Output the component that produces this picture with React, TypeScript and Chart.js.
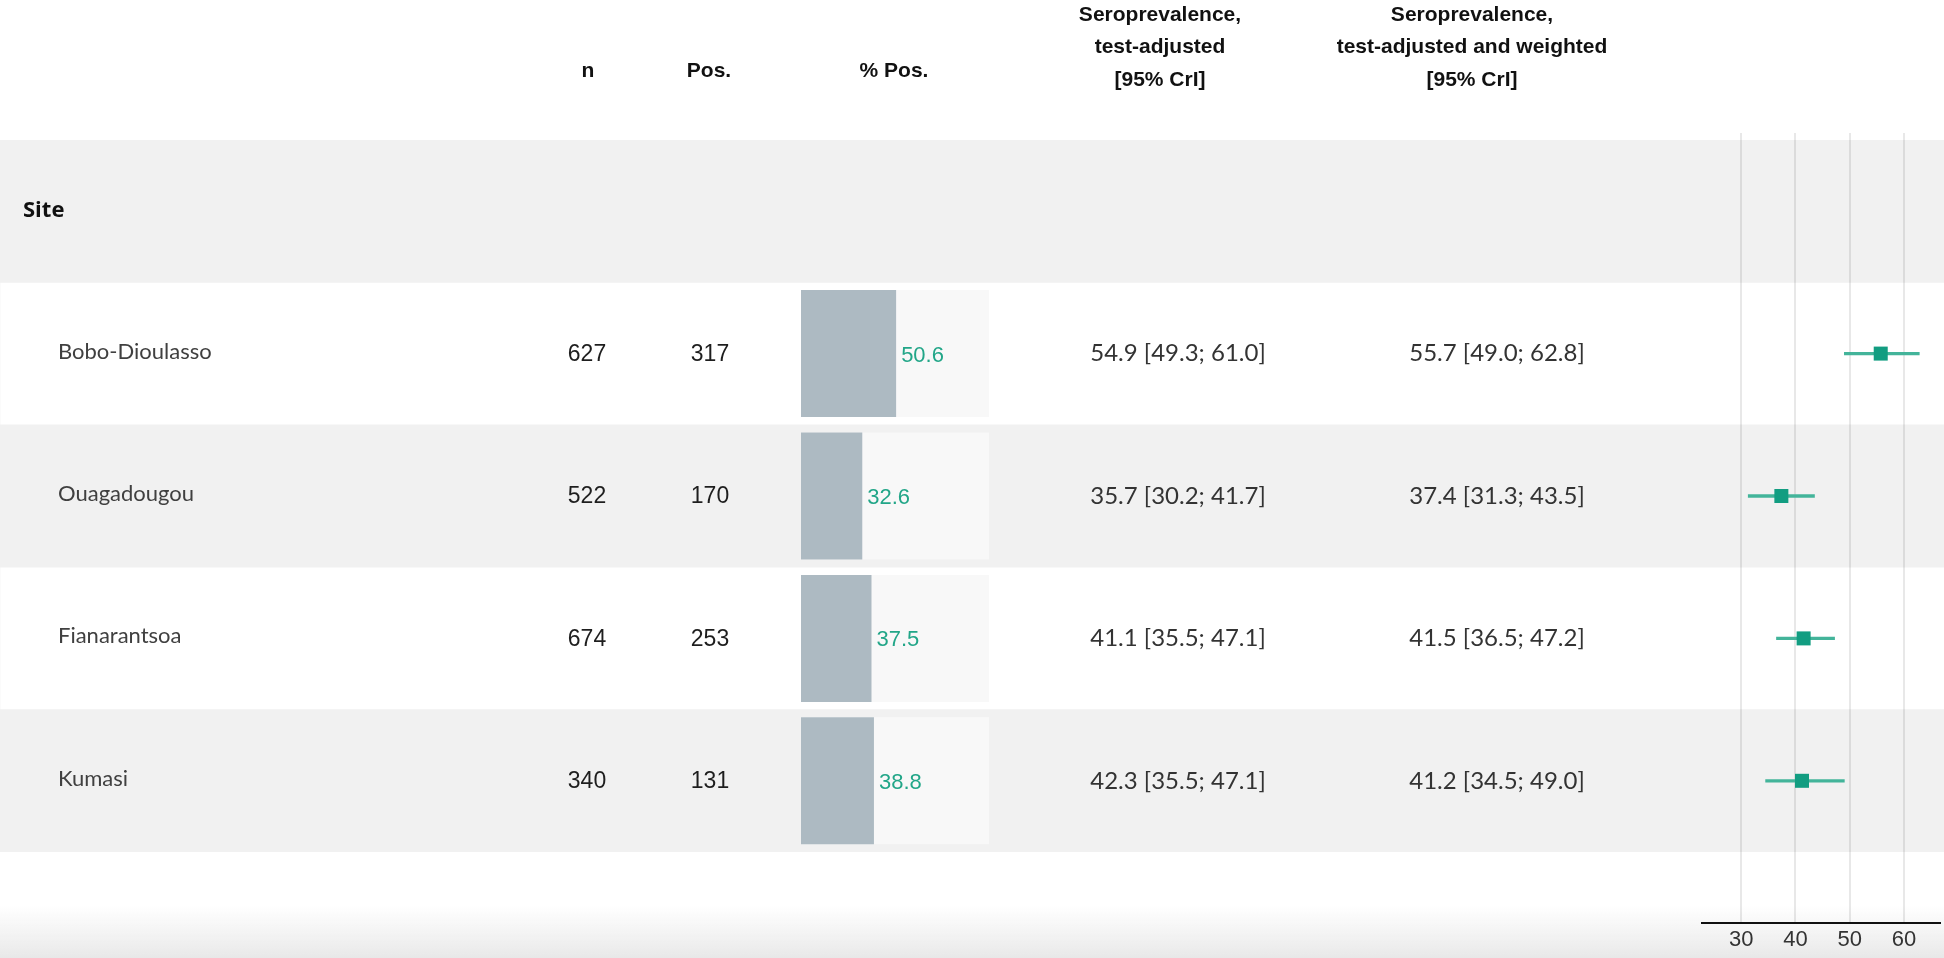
import React, { useEffect, useRef } from "react";
import { Chart, registerables } from "chart.js";

Chart.register(...registerables);

// ---------- data ----------
const rowHeader = "Site";
const sites = ["Bobo-Dioulasso", "Ouagadougou", "Fianarantsoa", "Kumasi"];
const nTotal = [627, 522, 674, 340];
const nPos = [317, 170, 253, 131];
const pctPos = [50.6, 32.6, 37.5, 38.8];
const adjEst = [54.9, 35.7, 41.1, 42.3];
const adjLo = [49.3, 30.2, 35.5, 35.5];
const adjHi = [61.0, 41.7, 47.1, 47.1];
const wEst = [55.7, 37.4, 41.5, 41.2];
const wLo = [49.0, 31.3, 36.5, 34.5];
const wHi = [62.8, 43.5, 47.2, 49.0];
const forestTicks = [30, 40, 50, 60];
const forestRange = [22.6, 66.8];
const colHeaders = ["n", "Pos.", "% Pos."];
const seroHeader1 = ["Seroprevalence,", "test-adjusted", "[95% CrI]"];
const seroHeader2 = ["Seroprevalence,", "test-adjusted and weighted", "[95% CrI]"];

// ---------- layout ----------
const W = 1944;
const H = 958;
const TABLE_TOP = 140;
const ROW_H = 142.4;
const ROWS = sites.length + 1;
const TABLE_BOTTOM = TABLE_TOP + ROW_H * ROWS;
const AXIS_Y = 923;
const GRID_TOP = 133;
const BAR_LEFT = 801;
const BAR_W = 188;
const FOREST_LEFT = 1701;
const FOREST_W = 240;

const rowLabels = [rowHeader, ...sites];
const f1 = (v: number) => v.toFixed(1);

const tablePlugin = {
  id: "tableText",
  beforeDatasetsDraw(chart: any) {
    const ctx = chart.ctx;
    ctx.save();
    const g = ctx.createLinearGradient(0, 905, 0, H);
    g.addColorStop(0, "rgba(235,235,235,0)");
    g.addColorStop(1, "rgba(232,232,232,1)");
    ctx.fillStyle = g;
    ctx.fillRect(0, 905, W, H - 905);
    ctx.restore();
  },
  afterDraw(chart: any) {
    const ctx = chart.ctx;
    const y = chart.scales.y;
    ctx.save();
    ctx.textBaseline = "middle";
    // column headers
    ctx.fillStyle = "#111";
    ctx.textAlign = "center";
    ctx.font = 'bold 21px "Liberation Sans", Arial, sans-serif';
    const hx = [588, 709, 894];
    colHeaders.forEach((t, i) => ctx.fillText(t, hx[i], 71));
    const hy = [15, 47, 80];
    seroHeader1.forEach((t, i) => ctx.fillText(t, 1160, hy[i]));
    seroHeader2.forEach((t, i) => ctx.fillText(t, 1472, hy[i]));
    // group header
    ctx.textAlign = "left";
    ctx.font = 'bold 22px "Open Sans", sans-serif';
    ctx.fillText(rowHeader, 23, y.getPixelForValue(0));
    // rows
    sites.forEach((s, i) => {
      const yc = y.getPixelForValue(i + 1);
      ctx.textAlign = "left";
      ctx.fillStyle = "#404040";
      ctx.font = '22px Lato, sans-serif';
      ctx.fillText(s, 58, yc - 2);
      ctx.textAlign = "center";
      ctx.fillStyle = "#1e1e1e";
      ctx.font = '23px "Liberation Sans", Arial, sans-serif';
      ctx.fillText(String(nTotal[i]), 587, yc + 1);
      ctx.fillText(String(nPos[i]), 710, yc + 1);
      ctx.fillStyle = "#333";
      ctx.font = '24px Lato, sans-serif';
      ctx.fillText(`${f1(adjEst[i])} [${f1(adjLo[i])}; ${f1(adjHi[i])}]`, 1178, yc);
      ctx.fillText(`${f1(wEst[i])} [${f1(wLo[i])}; ${f1(wHi[i])}]`, 1497, yc);
    });
    ctx.restore();
  },
};

const barLabelPlugin = {
  id: "barLabels",
  afterDatasetsDraw(chart: any) {
    const ctx = chart.ctx;
    const meta = chart.getDatasetMeta(0);
    ctx.save();
    ctx.fillStyle = "#22a688";
    ctx.font = '22px "Liberation Sans", Arial, sans-serif';
    ctx.textAlign = "left";
    ctx.textBaseline = "middle";
    meta.data.forEach((el: any, i: number) => {
      const v = chart.data.datasets[0].data[i];
      if (v == null) return;
      ctx.fillText(f1(v), el.x + 5, el.y + 2);
    });
    ctx.restore();
  },
};

export default function App() {
  const refA = useRef<HTMLCanvasElement>(null);
  const refB = useRef<HTMLCanvasElement>(null);
  const refC = useRef<HTMLCanvasElement>(null);

  useEffect(() => {
    document.body.style.margin = "0";
    document.body.style.overflow = "hidden";

    const common = {
      animation: false as const,
      responsive: false,
      maintainAspectRatio: false,
      events: [] as any[],
    };

    const chartA = new Chart(refA.current!, {
      type: "bar",
      data: {
        labels: rowLabels,
        datasets: [
          {
            data: rowLabels.map((_, i) => (i % 2 === 0 ? 1 : 0)),
            backgroundColor: "#f1f1f1",
            barPercentage: 1,
            categoryPercentage: 1,
            borderWidth: 0,
          },
        ],
      },
      options: {
        ...common,
        indexAxis: "y",
        layout: { autoPadding: false, padding: { top: TABLE_TOP, bottom: H - TABLE_BOTTOM, left: 0, right: 0 } },
        scales: {
          x: { display: false, min: 0, max: 1 },
          y: { display: false },
        },
        plugins: { legend: { display: false }, tooltip: { enabled: false } },
      } as any,
      plugins: [tablePlugin],
    });

    const chartB = new Chart(refB.current!, {
      type: "bar",
      data: {
        labels: rowLabels,
        datasets: [
          {
            data: [null, ...pctPos],
            backgroundColor: "#adbac2",
            grouped: false,
            barPercentage: 0.892,
            categoryPercentage: 1,
            borderWidth: 0,
            order: 0,
          } as any,
          {
            data: [null, ...pctPos.map(() => 100)],
            backgroundColor: "#f8f8f8",
            grouped: false,
            barPercentage: 0.892,
            categoryPercentage: 1,
            borderWidth: 0,
            order: 1,
          } as any,
        ],
      },
      options: {
        ...common,
        indexAxis: "y",
        layout: { autoPadding: false, padding: { top: TABLE_TOP, bottom: H - TABLE_BOTTOM, left: 0, right: 0 } },
        scales: {
          x: { display: false, min: 0, max: 100 },
          y: { display: false },
        },
        plugins: { legend: { display: false }, tooltip: { enabled: false } },
      } as any,
      plugins: [barLabelPlugin],
    });

    // forest y scale: rows 0..4 centered at TABLE_TOP + ROW_H*(i+0.5)
    const plotH = AXIS_Y - GRID_TOP;
    const yMin = -0.5 - (TABLE_TOP - GRID_TOP) / ROW_H;
    const yMax = yMin + plotH / ROW_H;

    const chartC = new Chart(refC.current!, {
      type: "scatter",
      data: {
        datasets: [
          {
            type: "scatter",
            data: sites.map((_, i) => ({ x: wEst[i], y: i + 1 })),
            pointStyle: "rect",
            pointRadius: 9.9,
            backgroundColor: "#129d81",
            borderColor: "#129d81",
            borderWidth: 0,
            order: 0,
          } as any,
          {
            type: "bar",
            indexAxis: "y",
            data: sites.map((_, i) => ({ x: [wLo[i], wHi[i]], y: i + 1 })),
            backgroundColor: "#43b49a",
            barThickness: 2.6,
            borderWidth: 0,
            order: 1,
          } as any,
        ],
      },
      options: {
        ...common,
        layout: { autoPadding: false, padding: { top: GRID_TOP, bottom: 0, left: 0, right: 0 } },
        scales: {
          x: {
            type: "linear",
            position: "bottom",
            offset: false,
            min: forestRange[0],
            max: forestRange[1],
            afterBuildTicks: (s: any) => {
              s.ticks = forestTicks.map((v) => ({ value: v }));
            },
            afterFit: (s: any) => {
              s.height = H - AXIS_Y;
            },
            grid: { color: "rgba(0,0,0,0.09)", lineWidth: 2, drawTicks: false },
            border: { color: "#111", width: 2 },
            ticks: {
              padding: 4,
              color: "#333",
              font: { family: '"Liberation Sans", Arial, sans-serif', size: 22 },
            },
          },
          y: { type: "linear", display: false, reverse: true, offset: false, min: yMin, max: yMax },
        },
        plugins: { legend: { display: false }, tooltip: { enabled: false } },
      } as any,
    });

    return () => {
      chartA.destroy();
      chartB.destroy();
      chartC.destroy();
    };
  }, []);

  return (
    <div style={{ position: "relative", width: W, height: H, background: "#fff" }}>
      <canvas ref={refA} width={W} height={H} style={{ position: "absolute", left: 0, top: 0 }} />
      <canvas
        ref={refB}
        width={BAR_W}
        height={H}
        style={{ position: "absolute", left: BAR_LEFT, top: 0 }}
      />
      <canvas
        ref={refC}
        width={FOREST_W}
        height={H}
        style={{ position: "absolute", left: FOREST_LEFT, top: 0 }}
      />
    </div>
  );
}
